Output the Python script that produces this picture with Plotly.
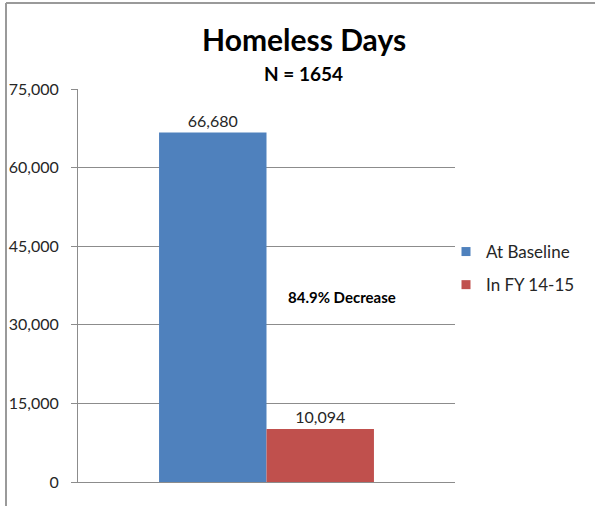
import plotly.graph_objects as go

# Chart data
category = ["Homeless Days"]
series_names = ["At Baseline", "In FY 14-15"]
series_values = [66680, 10094]
series_colors = ["#4F81BD", "#C0504D"]
tick_values = [0, 15000, 30000, 45000, 60000, 75000]
change_label = "84.9% Decrease"

W, H = 595, 506
ML, MR, MT, MB = 78, 140, 89, 24
PW, PH = W - ML - MR, H - MT - MB

FONT = "Lato, 'Open Sans', sans-serif"
TXT = "#262626"


def px_x(px):
    """Horizontal pixel position -> paper fraction."""
    return (px - ML) / PW


def px_y(px):
    """Vertical pixel position (from top) -> paper fraction."""
    return (H - MB - px) / PH


fig = go.Figure()
for name, val, col in zip(series_names, series_values, series_colors):
    fig.add_trace(go.Bar(
        x=category, y=[val], name=name, showlegend=False,
        marker=dict(color=col, line=dict(width=0)),
        text=[val], texttemplate="%{text:,}", textposition="outside",
        textfont=dict(family=FONT, size=16, color=TXT),
        cliponaxis=False,
    ))
    # Small square legend keys
    fig.add_trace(go.Scatter(
        x=[None], y=[None], mode="markers", name=name, legendgroup=name,
        marker=dict(symbol="square", size=9, color=col),
    ))

fig.add_annotation(
    x=px_x(342), xref="paper", y=35300, yref="y",
    xanchor="center", yanchor="middle",
    text=f"<b>{change_label}</b>", showarrow=False,
    font=dict(family=FONT, size=15, color="#000000"),
)

# Title and subtitle
fig.add_annotation(
    x=px_x(304), xref="paper", y=px_y(39), yref="paper",
    xanchor="center", yanchor="middle",
    text="<b>Homeless Days</b>", showarrow=False,
    font=dict(family=FONT, size=30, color="#000000"),
)
fig.add_annotation(
    x=px_x(303), xref="paper", y=px_y(73), yref="paper",
    xanchor="center", yanchor="middle",
    text="<b>N = 1654</b>", showarrow=False,
    font=dict(family=FONT, size=19, color="#000000"),
)

# Chart frame (top and left edges)
border = dict(color="#9A9A9A", width=2)
fig.add_shape(type="line", xref="paper", yref="paper",
              x0=px_x(6), x1=px_x(W), y0=px_y(3), y1=px_y(3), line=border)
fig.add_shape(type="line", xref="paper", yref="paper",
              x0=px_x(6), x1=px_x(6), y0=px_y(3), y1=px_y(H), line=border)

fig.update_layout(
    width=W, height=H,
    margin=dict(l=ML, r=MR, t=MT, b=MB, autoexpand=False),
    paper_bgcolor="white", plot_bgcolor="white",
    barmode="group", bargap=0.43, bargroupgap=0,
    showlegend=True,
    legend=dict(
        x=px_x(446), xanchor="left", y=px_y(234), yanchor="top",
        font=dict(family=FONT, size=17, color=TXT),
        itemwidth=30, tracegroupgap=8,
        bgcolor="rgba(0,0,0,0)",
    ),
    xaxis=dict(showticklabels=False, showgrid=False, ticks="",
               showline=True, linecolor="#8C8C8C", linewidth=1),
    yaxis=dict(range=[0, 75000], tickvals=tick_values, tickformat=",",
               showgrid=True, gridcolor="#8C8C8C", gridwidth=1,
               showline=True, linecolor="#8C8C8C", linewidth=1,
               ticks="outside", ticklen=6, tickcolor="#8C8C8C",
               ticklabelstandoff=9, zeroline=False,
               tickfont=dict(family=FONT, size=16, color=TXT)),
)

fig.write_html("out.html")
